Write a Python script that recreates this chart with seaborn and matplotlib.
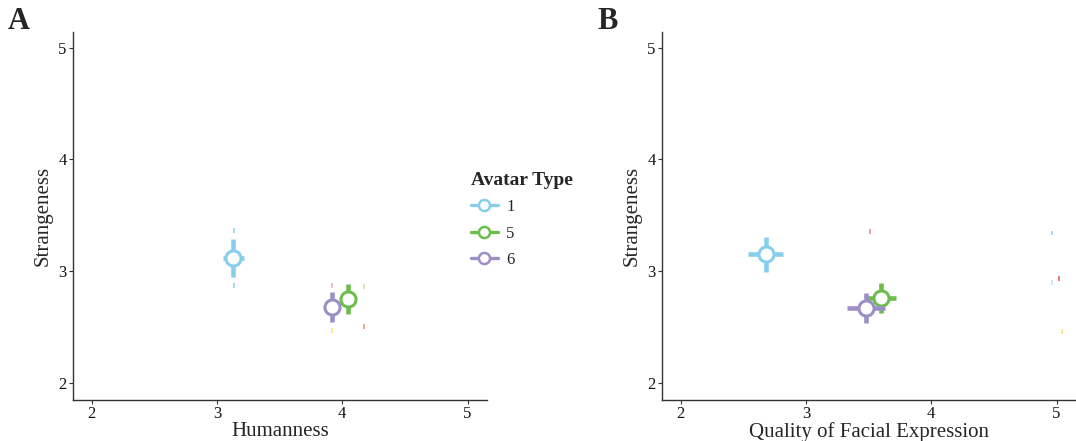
import numpy as np
import pandas as pd
import matplotlib
matplotlib.use("Agg")
import matplotlib.pyplot as plt
from matplotlib.lines import Line2D
import seaborn as sns

# ---- data -------------------------------------------------------------
avatar_types = ["1", "5", "6"]
palette = ["#86CFEA", "#6CBD4B", "#9C8FC7"]

# Panel A: Humanness vs Strangeness
hum_x = [3.13, 4.05, 3.92]
hum_xerr = [0.085, 0.0, 0.0]
hum_y = [3.12, 2.75, 2.68]
hum_yerr = [0.17, 0.135, 0.135]

# Panel B: Quality of facial expression vs Strangeness
qfe_x = [2.68, 3.60, 3.48]
qfe_xerr = [0.14, 0.12, 0.15]
qfe_y = [3.15, 2.76, 2.67]
qfe_yerr = [0.155, 0.135, 0.135]

# faint residual marks
faintA_x = [3.14, 3.14, 3.92, 3.92, 4.17, 4.17]
faintA_y = [3.36, 2.87, 2.87, 2.47, 2.86, 2.50]
faintA_c = ["#86CFEA", "#86CFEA", "#E3A6CF", "#F2E66A", "#B9E2A4", "#EE8A5A"]
faintB_x = [3.51, 4.96, 4.96, 5.02, 5.04]
faintB_y = [3.35, 3.34, 2.90, 2.93, 2.46]
faintB_c = ["#D97BB8", "#86CFEA", "#BFE3F2", "#E2502F", "#F2E66A"]

xticks = [2, 3, 4, 5]
yticks = [2, 3, 4, 5]

# ---- style -------------------------------------------------------------
sns.set_theme(style="white")
plt.rcParams["font.family"] = ["Liberation Serif", "DejaVu Serif"]

fig = plt.figure(figsize=(10.76, 4.41), dpi=100)
W, H = 1076, 441
axA = fig.add_axes([73 / W, 41 / H, 414 / W, 368 / H])
axB = fig.add_axes([662 / W, 41 / H, 414 / W, 368 / H])


def draw(ax, xs, xerrs, ys, yerrs, fx, fy, fc, xlabel):
    for x, y, c in zip(fx, fy, fc):
        ax.errorbar([x], [y], yerr=[0.022], fmt="none", ecolor=c,
                    elinewidth=1.3, alpha=0.8, capsize=0, zorder=1)
    for i, (t, c) in enumerate(zip(avatar_types, palette)):
        ax.errorbar([xs[i]], [ys[i]],
                    xerr=[xerrs[i]] if xerrs[i] > 0 else None,
                    yerr=[yerrs[i]], fmt="none", ecolor=c,
                    elinewidth=3.3, capsize=0, zorder=2 + 2 * i)
        df = pd.DataFrame({"x": [xs[i]], "y": [ys[i]]})
        sns.scatterplot(data=df, x="x", y="y", ax=ax, color=c, s=118,
                        marker="o", linewidth=2.2, zorder=3 + 2 * i,
                        legend=False)
        coll = ax.collections[-1]
        coll.set_facecolor("white")
        coll.set_edgecolor(c)
        coll.set_zorder(3 + 2 * i)
    ax.set_xlim(1.852, 5.155)
    ax.set_ylim(1.845, 5.14)
    ax.set_xticks(xticks)
    ax.set_yticks(yticks)
    ax.set_xticklabels([str(v) for v in xticks])
    ax.set_yticklabels([str(v) for v in yticks])
    ax.set_xlabel(xlabel, fontsize=15, labelpad=0)
    ax.set_ylabel("Strangeness", fontsize=15, labelpad=4)
    for s in ["top", "right"]:
        ax.spines[s].set_visible(False)
    for s in ["left", "bottom"]:
        ax.spines[s].set_color("#333333")
        ax.spines[s].set_linewidth(1.0)
    ax.tick_params(axis="both", which="both", length=3, width=0.8,
                   color="#333333", labelsize=12, labelcolor="#111111",
                   pad=1.5, left=True, bottom=True)
    ax.set_facecolor("white")


draw(axA, hum_x, hum_xerr, hum_y, hum_yerr, faintA_x, faintA_y, faintA_c,
     "Humanness")
draw(axB, qfe_x, qfe_xerr, qfe_y, qfe_yerr, faintB_x, faintB_y, faintB_c,
     "Quality of Facial Expression")

fig.text(8 / W, 1 - 29 / H, "A", fontsize=22, fontweight="bold",
         va="baseline", ha="left")
fig.text(597 / W, 1 - 29 / H, "B", fontsize=22, fontweight="bold",
         va="baseline", ha="left")

handles = [Line2D([0], [0], color=c, lw=2.4, marker="o", mfc="white",
                  mec=c, ms=8, mew=1.8) for c in palette]
leg = fig.legend(handles, avatar_types, title="Avatar Type",
                 loc="upper left", bbox_to_anchor=(456 / W, 1 - 157 / H),
                 frameon=False, fontsize=12, handlelength=1.6,
                 handletextpad=0.5, labelspacing=0.62,
                 title_fontproperties={"weight": "bold", "size": 14})
leg._legend_box.align = "left"

fig.savefig("out.png", dpi=100, facecolor="white")
